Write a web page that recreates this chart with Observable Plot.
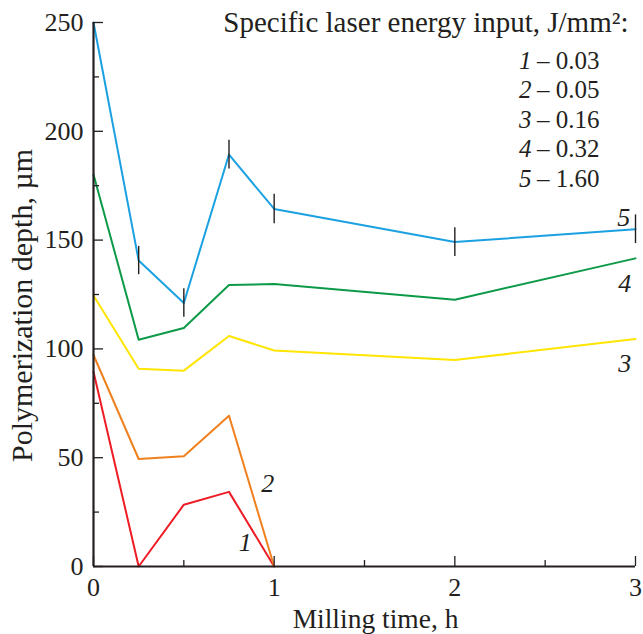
<!DOCTYPE html>
<html><head><meta charset="utf-8">
<script src="https://cdn.jsdelivr.net/npm/d3@7"></script>
<script src="https://cdn.jsdelivr.net/npm/@observablehq/plot@0.6"></script>
<style>
body{margin:0;background:#fff}
</style>
</head><body><div id="chart"></div>
<script>
// Milling time, h
const times = [0, 0.25, 0.5, 0.75, 1, 2, 3];
// Polymerization depth, µm, per specific laser energy input
const depth1 = [89.5, 0, 28.4, 34.3, 0];
const depth2 = [97.2, 49.4, 50.7, 69.3, 0];
const depth3 = [124.5, 90.9, 90.0, 105.9, 99.3, 94.9, 104.5];
const depth4 = [180.1, 104.2, 109.6, 129.4, 129.8, 122.6, 141.6];
const depth5 = [250, 140.6, 121.1, 189.3, 164.3, 149.1, 155.0];
const error5 = [null, 6.5, 6.5, 6.6, 6.8, 6.6, 6.6];

const seriesIds = ["1", "2", "3", "4", "5"];
const energies = ["0.03", "0.05", "0.16", "0.32", "1.60"];
const seriesColors = ["#ee1c24", "#f0801e", "#ffe500", "#0d9a48", "#1ba1e2"];
// curve label positions (data units)
const labelTime = [0.84, 0.965, 2.94, 2.94, 2.935];
const labelDepth = [10.9, 38, 93.2, 130, 160.3];

const yMajor = [0, 50, 100, 150, 200, 250];
const yMinor = [25, 75, 125, 175, 225];
const xMajor = [0, 1, 2, 3];
const xMinor = [0.5, 1.5, 2.5];

const legendTitle = "Specific laser energy input, J/mm²:";
const xLabel = "Milling time, h";
const yLabel = "Polymerization depth, µm";

const allDepths = [depth1, depth2, depth3, depth4, depth5];
const rows = [];
allDepths.forEach((vals, i) => vals.forEach((v, j) => rows.push({series: seriesIds[i], t: times[j], d: v})));
const errRows = depth5.map((v, j) => ({t: times[j], d: v, e: error5[j]})).filter(r => r.e != null);
const labels = seriesIds.map((id, i) => ({id, t: labelTime[i], d: labelDepth[i]}));

const ink = "#231f20";
const font = "Liberation Serif";

const legendMarks = seriesIds.flatMap((id, i) => [
  Plot.text([id], {text: d => d, frameAnchor: "top-right", textAnchor: "end", lineAnchor: "bottom",
    dx: -104, dy: 46 + i * 29.5, fontSize: 25, fontStyle: "italic", fontFamily: font, fill: ink}),
  Plot.text(["– " + energies[i]], {text: d => d, frameAnchor: "top-right", textAnchor: "end", lineAnchor: "bottom",
    dx: -36, dy: 46 + i * 29.5, fontSize: 25, fontFamily: font, fill: ink})
]);

const chart = Plot.plot({
  width: 643,
  height: 634,
  marginLeft: 93,
  marginRight: 8,
  marginTop: 22,
  marginBottom: 68,
  style: "font-family: 'Liberation Serif'; background: #fff; color: #231f20;",
  x: {domain: [0, 3]},
  y: {domain: [0, 250]},
  color: {domain: seriesIds, range: seriesColors},
  marks: [
    Plot.line(rows, {x: "t", y: "d", z: "series", stroke: "series", strokeWidth: 2}),
    Plot.ruleX(errRows, {x: "t", y1: d => d.d - d.e, y2: d => d.d + d.e, stroke: ink, strokeWidth: 1.4}),
    Plot.ruleX([0], {stroke: ink, strokeWidth: 2.2}),
    Plot.ruleY([0], {stroke: ink, strokeWidth: 2.2}),
    Plot.axisY({ticks: yMajor, tickSize: 0, tickPadding: 10, fontSize: 26, fontFamily: font, label: null, fill: ink}),
    Plot.axisY({ticks: yMajor, tickSize: -10, tickFormat: () => "", label: null, stroke: ink, strokeWidth: 1.3}),
    Plot.axisY({ticks: yMinor, tickSize: -6, tickFormat: () => "", label: null, stroke: ink, strokeWidth: 1.3}),
    Plot.axisX({ticks: xMajor, tickSize: 0, tickPadding: 11, tickFormat: d3.format("d"), fontSize: 26, fontFamily: font, label: null, fill: ink}),
    Plot.axisX({ticks: xMajor, tickSize: -10, tickFormat: () => "", label: null, stroke: ink, strokeWidth: 1.3}),
    Plot.axisX({ticks: xMinor, tickSize: -6, tickFormat: () => "", label: null, stroke: ink, strokeWidth: 1.3}),
    Plot.text([xLabel], {text: d => d, frameAnchor: "bottom", textAnchor: "middle", lineAnchor: "bottom", dx: 11, dy: 61, fontSize: 27.5, fontFamily: font, fill: ink}),
    Plot.text([yLabel], {text: d => d, frameAnchor: "left", textAnchor: "middle", lineAnchor: "bottom", rotate: -90, dx: -62, dy: 11, fontSize: 30, fontFamily: font, fill: ink}),
    Plot.text(labels, {x: "t", y: "d", text: "id", fontStyle: "italic", fontSize: 26, fontFamily: font, fill: ink, lineAnchor: "middle"}),
    Plot.text([legendTitle], {text: d => d, frameAnchor: "top-right", textAnchor: "end", lineAnchor: "bottom", dx: -7, dy: 9, fontSize: 29, fontFamily: font, fill: ink}),
    ...legendMarks
  ]
});
document.getElementById("chart").appendChild(chart);
</script>
</body></html>
